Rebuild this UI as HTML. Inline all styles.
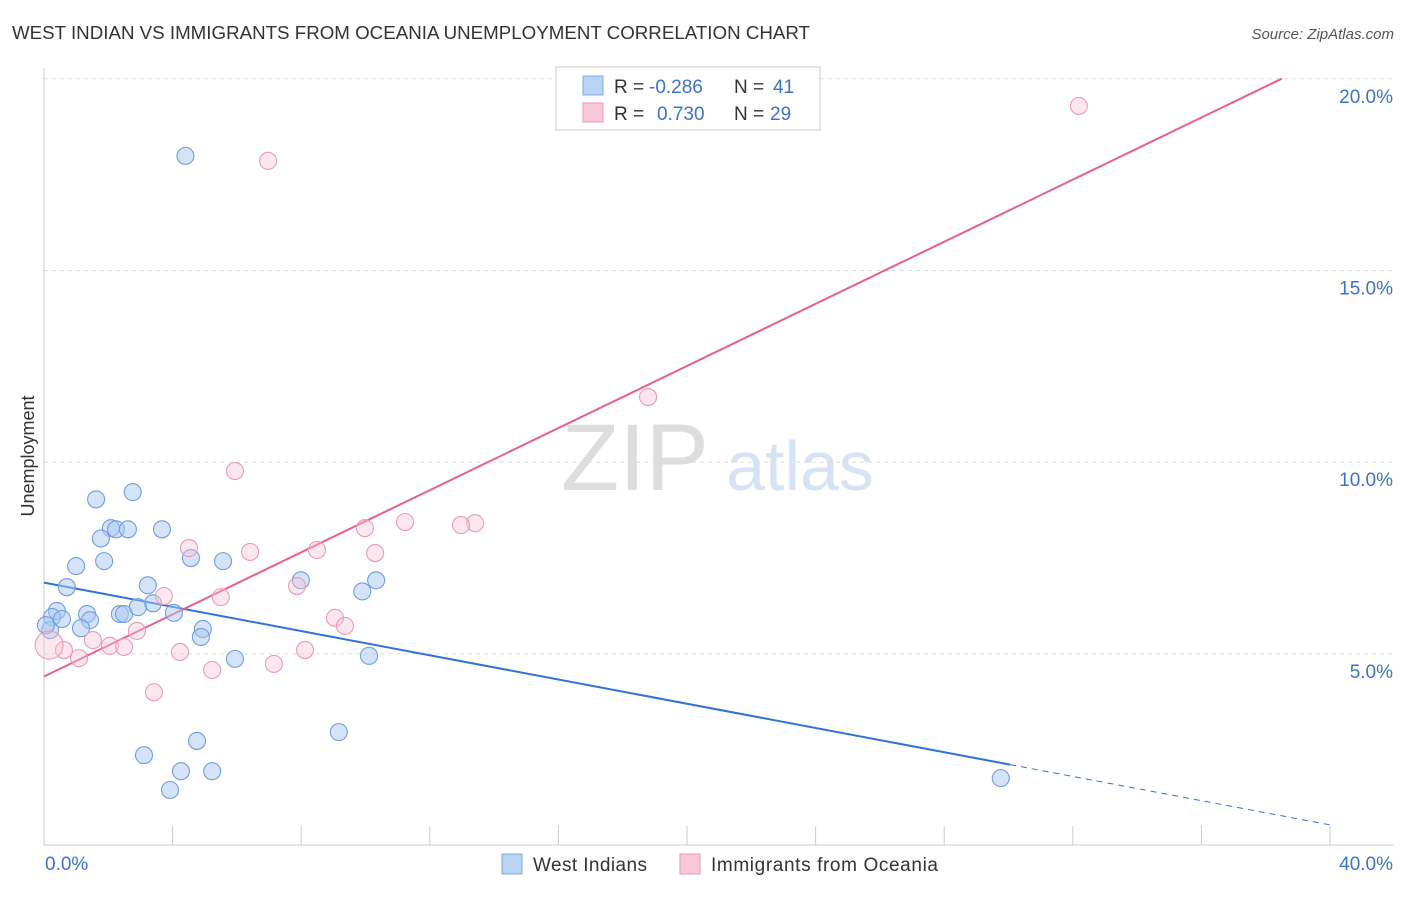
<!DOCTYPE html>
<html><head><meta charset="utf-8"><style>
body{margin:0;background:#fff;font-family:"Liberation Sans",sans-serif;}
svg text{font-family:"Liberation Sans",sans-serif;}
</style></head><body>
<svg id="chart" width="1406" height="892">
<text x="12" y="39" font-size="18" fill="#333" textLength="798" lengthAdjust="spacingAndGlyphs">WEST INDIAN VS IMMIGRANTS FROM OCEANIA UNEMPLOYMENT CORRELATION CHART</text>
<text x="1394" y="39" font-size="15" fill="#555" font-style="italic" text-anchor="end">Source: ZipAtlas.com</text>
<text x="34" y="456" font-size="18" fill="#333" text-anchor="middle" transform="rotate(-90 34 456)">Unemployment</text>
<g><text x="635" y="490" font-size="95" fill="#ddd" font-family="Liberation Serif" text-anchor="middle">ZIP</text><text x="800" y="490" font-size="70" fill="#d5e3f5" text-anchor="middle">atlas</text></g>
<g id="grid"></g><g id="axes"></g><g id="lines"></g><g id="pts"></g>
<g>
<rect x="556" y="67" width="264" height="63" fill="#fff" stroke="#ccc"/>
<rect x="583" y="76" width="20" height="19" fill="#b9d3f3" stroke="#7fa8de"/>
<rect x="583" y="103" width="20" height="19" fill="#f9c8d6" stroke="#e99ab3"/>
<text x="614" y="93" font-size="19" fill="#333">R =</text><text x="649" y="93" font-size="19" fill="#3b73c9">-0.286</text><text x="734" y="93" font-size="19" fill="#333">N =</text><text x="773" y="93" font-size="19" fill="#3b73c9">41</text>
<text x="614" y="120" font-size="19" fill="#333">R =</text><text x="657" y="120" font-size="19" fill="#3b73c9">0.730</text><text x="734" y="120" font-size="19" fill="#333">N =</text><text x="770" y="120" font-size="19" fill="#3b73c9">29</text>
</g>
<g>
<rect x="502" y="854" width="20" height="20" fill="#b9d3f3" stroke="#7fa8de"/>
<text x="533" y="871" font-size="19" fill="#333" textLength="114">West Indians</text>
<rect x="680" y="854" width="20" height="20" fill="#f9c8d6" stroke="#e99ab3"/>
<text x="711" y="871" font-size="19" fill="#333" textLength="227">Immigrants from Oceania</text>
</g>
</svg>
<script>
const yTicks=[5,10,15,20];
const xTickLabels=["0.0%","40.0%"];
const blueX=[4.4,2.76,1.62,2.08,2.24,2.61,3.67,1.77,1.0,1.87,4.57,5.57,0.71,3.23,7.99,10.33,9.9,0.4,0.25,0.56,1.34,1.43,2.36,2.49,3.39,2.92,4.04,1.15,4.94,4.88,5.94,10.11,0.19,9.17,3.11,4.76,4.26,5.23,3.92,29.76,0.06];
const blueY=[17.99,9.22,9.03,8.28,8.25,8.25,8.25,8.01,7.29,7.42,7.5,7.42,6.74,6.79,6.92,6.92,6.63,6.12,5.96,5.91,6.04,5.88,6.04,6.04,6.32,6.22,6.07,5.67,5.65,5.44,4.87,4.95,5.62,2.96,2.36,2.73,1.94,1.94,1.45,1.76,5.75];
const pinkX=[6.97,32.19,18.79,5.94,11.23,13.41,12.97,9.98,4.51,6.41,8.49,10.3,7.87,3.73,5.5,9.05,9.36,2.89,1.52,2.05,2.49,4.23,8.12,0.62,1.09,0.16,7.15,5.23,3.42];
const pinkY=[17.86,19.29,11.7,9.77,8.44,8.41,8.36,8.28,7.76,7.66,7.71,7.63,6.77,6.51,6.48,5.94,5.73,5.6,5.36,5.21,5.18,5.05,5.1,5.1,4.89,5.23,4.74,4.58,4.0];
const blueFit=[6.86,-0.158,30.05,40];
const pinkFit=[4.41,0.405,38.5];
const X=v=>44+v*32.15, Y=v=>845.6-v*38.34;
const NS="http://www.w3.org/2000/svg";
function mk(p,t,a){const e=document.createElementNS(NS,t);for(const k in a)e.setAttribute(k,a[k]);document.getElementById(p).appendChild(e);return e;}
yTicks.forEach(t=>{
 const l=mk('grid','line',{x1:44,x2:1394,y1:Y(t),y2:Y(t),stroke:'#ddd','stroke-dasharray':'4,4'});
 
 
 const tx=mk('axes','text',{x:1393,y:Y(t)+24,'font-size':19,fill:'#3b73c9','text-anchor':'end'});tx.textContent=t.toFixed(1)+'%';
 
 
});
const ax=mk('axes','line',{x1:44,x2:44,y1:68,y2:845,stroke:'#ccc'});


const bx=mk('axes','line',{x1:44,x2:1394,y1:845,y2:845,stroke:'#ccc'});


for(let i=0;i<=10;i++){const t=mk('axes','line',{x1:X(i*4),x2:X(i*4),y1:826,y2:845,stroke:'#ccc'});
 
 }
const l0=mk('axes','text',{x:45,y:870,'font-size':19,fill:'#3b73c9'});l0.textContent=xTickLabels[0];


const l1=mk('axes','text',{x:1393,y:870,'font-size':19,fill:'#3b73c9','text-anchor':'end'});l1.textContent=xTickLabels[1];


const bf=x=>blueFit[0]+blueFit[1]*x, pf=x=>pinkFit[0]+pinkFit[1]*x;
let e=mk('lines','line',{x1:X(0),y1:Y(bf(0)),x2:X(blueFit[2]),y2:Y(bf(blueFit[2])),stroke:'#2f73d8','stroke-width':2});


e=mk('lines','line',{x1:X(blueFit[2]),y1:Y(bf(blueFit[2])),x2:X(blueFit[3]),y2:Y(bf(blueFit[3])),stroke:'#2f73d8','stroke-width':1,'stroke-dasharray':'6,5'});


e=mk('lines','line',{x1:X(0),y1:Y(pf(0)),x2:X(pinkFit[2]),y2:Y(pf(pinkFit[2])),stroke:'#e8608c','stroke-width':2});


blueX.forEach((x,i)=>{const c=mk('pts','circle',{cx:X(x),cy:Y(blueY[i]),r:8.5,fill:'rgba(170,200,240,0.5)',stroke:'#6f9ede','stroke-width':1.1});
 
 });
pinkX.forEach((x,i)=>{const c=mk('pts','circle',{cx:X(x),cy:Y(pinkY[i]),r:i==25?14:8.5,fill:'rgba(248,195,212,0.4)',stroke:'#eb9ab5','stroke-width':1.1});
 
 });
</script>
</body></html>
